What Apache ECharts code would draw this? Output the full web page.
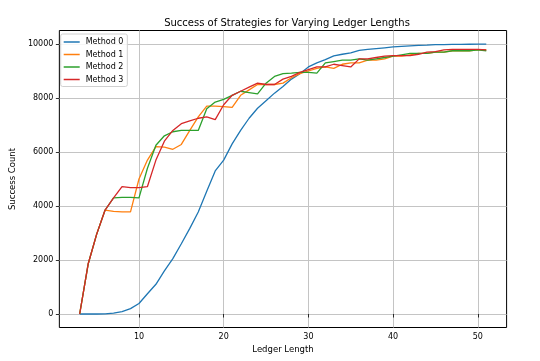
<!DOCTYPE html>
<html><head><meta charset="utf-8">
<script src="https://cdn.jsdelivr.net/npm/echarts@6/dist/echarts.min.js"></script>
<style>html,body{margin:0;padding:0;background:#fff}#c{width:540px;height:361px}</style>
</head><body><div id="c"></div>
<script>
const ledgerLengths = [3,4,5,6,7,8,9,10,11,12,13,14,15,16,17,18,19,20,21,22,23,24,25,26,27,28,29,30,31,32,33,34,35,36,37,38,39,40,41,42,43,44,45,46,47,48,49,50,51];
const method0 = [0,0,0,5,30,90,200,390,750,1100,1600,2050,2600,3170,3780,4550,5300,5700,6300,6800,7250,7620,7900,8180,8430,8700,8900,9150,9300,9420,9560,9620,9670,9760,9800,9830,9860,9890,9910,9930,9950,9960,9975,9980,9985,9988,9990,9992,9995];
const method1 = [0,1850,2950,3850,3800,3780,3780,5000,5700,6200,6180,6100,6280,6800,7300,7700,7700,7680,7650,8100,8300,8500,8500,8500,8550,8750,8900,9000,9100,9150,9100,9250,9300,9300,9400,9400,9450,9550,9550,9600,9650,9650,9700,9700,9750,9750,9750,9780,9780];
const method2 = [0,1850,2950,3850,4300,4320,4320,4300,5400,6250,6600,6750,6800,6800,6800,7600,7850,7950,8100,8250,8200,8150,8550,8800,8900,8920,8950,8950,8920,9300,9350,9400,9400,9450,9400,9450,9500,9550,9600,9650,9650,9650,9700,9700,9750,9750,9750,9780,9750];
const method3 = [0,1850,2950,3850,4300,4720,4680,4680,4720,5700,6400,6800,7050,7150,7250,7300,7200,7750,8100,8250,8400,8550,8500,8500,8700,8800,8950,9050,9150,9150,9250,9200,9150,9450,9450,9500,9550,9570,9570,9570,9620,9700,9720,9780,9800,9800,9800,9800,9780];
const seriesNames = ['Method 0','Method 1','Method 2','Method 3'];
const xTicks = [10,20,30,40,50];
const yTicks = [0,2000,4000,6000,8000,10000];

const colors = ['#1f77b4','#ff7f0e','#2ca02c','#d62728'];
const allData = [method0, method1, method2, method3];
const font = 'DejaVu Sans';
const chart = echarts.init(document.getElementById('c'), null, {renderer:'canvas'});
chart.setOption({
  animation: false,
  backgroundColor: '#fff',
  title: {
    text: 'Success of Strategies for Varying Ledger Lengths',
    left: 282, top: 13, textAlign: 'center',
    textStyle: {fontFamily: font, fontSize: 10, fontWeight: 'normal', color: '#000'}
  },
  legend: {
    orient: 'vertical', left: 60.7, top: 34,
    padding: [3, 4, 2, 3],
    backgroundColor: 'rgba(255,255,255,0.85)', borderColor: '#d0d0d0', borderWidth: 1, borderRadius: 2,
    itemWidth: 16, itemHeight: 1.5, itemGap: 2.5,
    icon: 'rect',
    textStyle: {fontFamily: font, fontSize: 8, color: '#000', lineHeight: 10, padding: [0,0,0,1]},
    data: seriesNames
  },
  grid: {left: 57.8, right: 33.4, top: 30.5, bottom: 33.5, show: true, borderColor: '#000', borderWidth: 1, backgroundColor: 'transparent'},
  xAxis: {
    type: 'value', min: 0.6, max: 53.4,
    name: 'Ledger Length', nameLocation: 'middle', nameGap: 18,
    nameTextStyle: {fontFamily: font, fontSize: 8.5, color: '#000'},
    axisLine: {show: false},
    axisTick: {show: true, inside: false, length: 3.5, lineStyle: {color: '#000', width: 0.8}, customValues: xTicks},
    axisLabel: {fontFamily: font, fontSize: 8, color: '#000', margin: 5, customValues: xTicks, formatter: v => String(v)},
    splitLine: {show: true, lineStyle: {color: '#c4c4c4', width: 1}}
  },
  yAxis: {
    type: 'value', min: -500, max: 10500,
    name: 'Success Count', nameLocation: 'middle', nameGap: 39,
    nameTextStyle: {fontFamily: font, fontSize: 8.5, color: '#000'},
    axisLine: {show: false},
    axisTick: {show: true, inside: false, length: 3.5, lineStyle: {color: '#000', width: 0.8}, customValues: yTicks},
    axisLabel: {fontFamily: font, fontSize: 8, color: '#000', margin: 6, customValues: yTicks, formatter: v => String(v)},
    splitLine: {show: true, lineStyle: {color: '#c4c4c4', width: 1}}
  },
  series: seriesNames.map((n, i) => ({
    name: n, type: 'line', symbol: 'none', showSymbol: false,
    color: colors[i],
    lineStyle: {color: colors[i], width: 1.3},
    data: ledgerLengths.map((x, j) => [x, allData[i][j]]),
    z: 2 + i
  }))
});
</script></body></html>
